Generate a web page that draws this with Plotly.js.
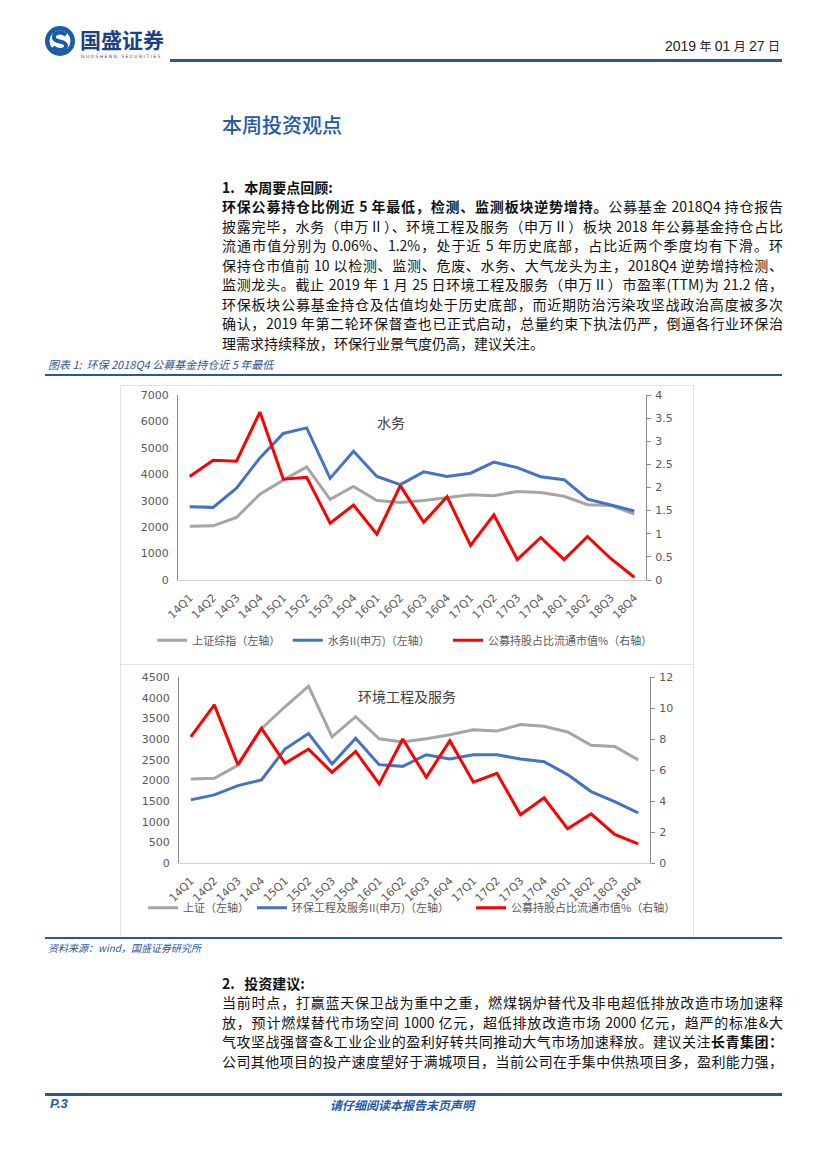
<!DOCTYPE html>
<html><head><meta charset="utf-8">
<script src="https://cdn.plot.ly/plotly-3.0.1.min.js"></script>
<style>
body{margin:0;width:827px;height:1169px;position:relative;background:#fff;font-family:"Noto Sans CJK SC","Noto Sans",sans-serif;overflow:hidden;color:#111}
.abs{position:absolute}
.ln{position:absolute;left:222px;width:561px;font-size:14px;line-height:19px;height:19px;text-align:justify;text-align-last:justify;color:#111}
.ln.last{text-align-last:left}
.rule{position:absolute;background:#2e5597}
.cap{position:absolute;font-size:11px;font-style:italic;color:#2e5597}
b{font-weight:700}
</style></head>
<body>
<!-- header -->
<svg class="abs" style="left:40px;top:20px" width="140" height="42">
  <circle cx="20" cy="21" r="15" fill="#1b5bab"/>
  <circle cx="20" cy="21" r="10.5" fill="#fff"/>
  <path d="M26,15 C22,11 13,12 14,18 C15,23 26,20 26,26 C26,31 16,31 13,27" stroke="#1b5bab" stroke-width="4" fill="none"/>
  <text x="40" y="28" font-family="Noto Sans CJK SC" font-weight="700" font-size="21" fill="#1b3f8c">国盛证券</text>
  <text x="41" y="38" font-family="DejaVu Sans" font-size="4.5" fill="#444" letter-spacing="1.4">GUOSHENG SECURITIES</text>
</svg>
<div class="abs" style="right:47px;top:37px;font-size:14px;color:#222;font-family:'Liberation Sans','Noto Sans CJK SC'">2019<span style="font-size:12px"> 年 </span>01<span style="font-size:12px"> 月 </span>27<span style="font-size:12px"> 日</span></div>
<div class="rule" style="left:170px;top:59px;width:612px;height:3px"></div>

<div class="abs" style="left:222px;top:110px;font-size:20px;font-weight:500;color:#2458aa">本周投资观点</div>

<div class="abs" style="left:222px;top:177px;font-size:14px;font-weight:700">1.&nbsp;&nbsp; 本周要点回顾:</div>
<div class="ln" style="top:197px"><b>环保公募持仓比例近 5 年最低，检测、监测板块逆势增持。</b>公募基金 2018Q4 持仓报告</div>
<div class="ln" style="top:216.5px">披露完毕，水务（申万Ⅱ）、环境工程及服务（申万Ⅱ）板块 2018 年公募基金持仓占比</div>
<div class="ln" style="top:236px">流通市值分别为 0.06%、1.2%，处于近 5 年历史底部，占比近两个季度均有下滑。环</div>
<div class="ln" style="top:255.5px">保持仓市值前 10 以检测、监测、危废、水务、大气龙头为主，2018Q4 逆势增持检测、</div>
<div class="ln" style="top:275px">监测龙头。截止 2019 年 1 月 25 日环境工程及服务（申万Ⅱ）市盈率(TTM)为 21.2 倍，</div>
<div class="ln" style="top:294.5px">环保板块公募基金持仓及估值均处于历史底部，而近期防治污染攻坚战政治高度被多次</div>
<div class="ln" style="top:314px">确认，2019 年第二轮环保督查也已正式启动，总量约束下执法仍严，倒逼各行业环保治</div>
<div class="ln last" style="top:333.5px">理需求持续释放，环保行业景气度仍高，建议关注。</div>

<div class="cap" style="left:48px;top:356px">图表 1:&nbsp; 环保 2018Q4 公募基金持仓近 5 年最低</div>
<div class="rule" style="left:45px;top:374px;width:737px;height:2px"></div>

<div class="abs" style="left:120px;top:385px;width:572px;height:278px;border:1px solid #e3e3e3;border-bottom:none"></div>
<div class="abs" style="left:120px;top:664px;width:572px;height:272px;border:1px solid #e3e3e3;border-bottom:none"></div>
<div id="c1" class="abs" style="left:130px;top:385px;width:570px;height:280px"></div>
<div id="c2" class="abs" style="left:130px;top:665px;width:570px;height:270px"></div>

<div class="rule" style="left:45px;top:937px;width:737px;height:2px"></div>
<div class="cap" style="left:48px;top:940px;font-size:10px">资料来源：wind，国盛证券研究所</div>

<div class="abs" style="left:222px;top:973px;font-size:14px;font-weight:700">2.&nbsp;&nbsp; 投资建议:</div>
<div class="ln" style="top:993px">当前时点，打赢蓝天保卫战为重中之重，燃煤锅炉替代及非电超低排放改造市场加速释</div>
<div class="ln" style="top:1012.5px">放，预计燃煤替代市场空间 1000 亿元，超低排放改造市场 2000 亿元，趋严的标准&amp;大</div>
<div class="ln" style="top:1032px">气攻坚战强督查&amp;工业企业的盈利好转共同推动大气市场加速释放。建议关注<b>长青集团：</b></div>
<div class="ln" style="top:1051.5px">公司其他项目的投产速度望好于满城项目，当前公司在手集中供热项目多，盈利能力强，</div>

<div class="rule" style="left:45px;top:1093px;width:737px;height:3px"></div>
<div class="abs" style="left:50px;top:1096px;font-size:13px;font-weight:700;font-style:italic;color:#2458aa;font-family:'Liberation Sans'">P.3</div>
<div class="abs" style="left:330px;top:1096px;font-size:12px;font-weight:700;font-style:italic;color:#2458aa">请仔细阅读本报告末页声明</div>

<script>
const quarters = ['14Q1','14Q2','14Q3','14Q4','15Q1','15Q2','15Q3','15Q4','16Q1','16Q2','16Q3','16Q4','17Q1','17Q2','17Q3','17Q4','18Q1','18Q2','18Q3','18Q4'];
const shIndex = [2033,2048,2364,3250,3780,4277,3053,3539,3004,2930,3005,3104,3223,3192,3349,3307,3169,2847,2821,2494];
const waterIndex = [2773,2748,3475,4621,5546,5755,3845,4868,3919,3611,4092,3919,4042,4461,4252,3907,3796,3056,2835,2613];
const waterFundPct = [2.24,2.59,2.57,3.63,2.18,2.22,1.23,1.62,0.99,2.04,1.25,1.80,0.75,1.41,0.44,0.92,0.44,0.94,0.46,0.06];
const envIndex = [1527,1647,1872,2009,2756,3134,2395,3021,2379,2338,2620,2515,2620,2620,2515,2451,2138,1728,1487,1213];
const envFundPct = [8.14,10.2,6.34,8.7,6.43,7.35,5.85,7.2,5.1,8.0,5.53,7.89,5.21,5.79,3.11,4.2,2.21,3.17,1.84,1.24];

const GRAY='#a5a5a5', BLUE='#4472c4', RED='#ff0000';
const tickFont={family:'DejaVu Sans, Liberation Sans',size:11,color:'#595959'};
const legFont={family:'Noto Sans CJK SC',size:11,color:'#595959'};

function leg(x,y){return {orientation:'h',x:x,y:y,xanchor:'left',yanchor:'middle',font:legFont,bgcolor:'rgba(0,0,0,0)',borderwidth:0};}

function build(id, cfg){
  const traces=[
    {x:quarters,y:shIndex,type:'scatter',mode:'lines',name:cfg.names[0],line:{color:GRAY,width:3},legend:'legend'},
    {x:quarters,y:cfg.sector,type:'scatter',mode:'lines',name:cfg.names[1],line:{color:BLUE,width:3},legend:'legend2'},
    {x:quarters,y:cfg.pct,type:'scatter',mode:'lines',name:cfg.names[2],line:{color:RED,width:3},yaxis:'y2',legend:'legend3'}
  ];
  const layout={
    width:570,height:cfg.h,margin:cfg.margin,
    paper_bgcolor:'rgba(0,0,0,0)',plot_bgcolor:'rgba(0,0,0,0)',
    showlegend:true,
    xaxis:{type:'category',range:[-0.5,19.5],showline:true,linecolor:'#d0d0d0',linewidth:1,ticks:'',tickangle:-45,tickfont:tickFont,showgrid:false,zeroline:false,ticklabelstandoff:6},
    yaxis:{range:[0,cfg.lmax],dtick:cfg.ldt,showline:true,linecolor:'#8c8c8c',ticks:'',showgrid:false,zeroline:false,tickfont:tickFont,ticklabelstandoff:6},
    yaxis2:{overlaying:'y',side:'right',range:[0,cfg.rmax],dtick:cfg.rdt,showline:true,linecolor:'#8c8c8c',ticks:'outside',ticklen:4,tickcolor:'#8c8c8c',showgrid:false,zeroline:false,tickfont:tickFont,ticklabelstandoff:2},
    legend:leg(cfg.lx[0],cfg.ly),legend2:leg(cfg.lx[1],cfg.ly),legend3:leg(cfg.lx[2],cfg.ly),
    annotations:[{text:cfg.title,x:cfg.tx,y:cfg.ty,xref:'paper',yref:'paper',showarrow:false,font:{family:'Noto Sans CJK SC',size:14,color:'#404040'}}]
  };
  Plotly.newPlot(id,traces,layout,{staticPlot:true,displayModeBar:false});
}

build('c1',{h:280,margin:{l:47.7,r:54,t:10,b:80},sector:waterIndex,pct:waterFundPct,
  names:['上证综指（左轴）','水务II(申万)（左轴）','公募持股占比流通市值%（右轴）'],
  lmax:7000,ldt:1000,rmax:4,rdt:0.5,lx:[-0.055,0.2345,0.577],ly:-0.326,title:'水务',tx:0.455,ty:0.92});
build('c2',{h:270,margin:{l:49,r:50,t:11.7,b:71.7},sector:envIndex,pct:envFundPct,
  names:['上证（左轴）','环保工程及服务II(申万)（左轴）','公募持股占比流通市值%（右轴）'],
  lmax:4500,ldt:500,rmax:12,rdt:2,lx:[-0.0764,0.155,0.62],ly:-0.24,title:'环境工程及服务',tx:0.484,ty:0.96});
</script>
</body></html>
